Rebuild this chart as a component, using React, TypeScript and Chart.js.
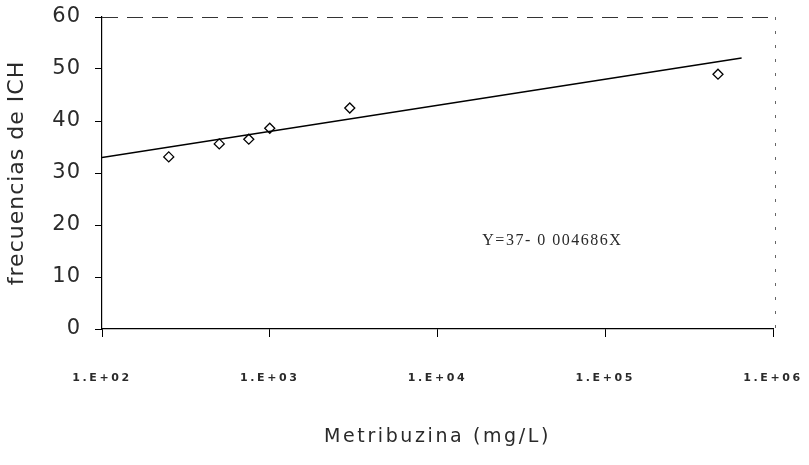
import React, { useEffect, useRef } from "react";
import { Chart, registerables } from "chart.js";

Chart.register(...registerables);

// Data
const concentrations = [250, 500, 750, 1000, 3000, 470000];
const frequencies = [33.1, 35.6, 36.5, 38.6, 42.5, 49.0];
const fitX = [100, 650000];
const fitY = [33, 52.1];
const xTickValues = [100, 1000, 10000, 100000, 1000000];
const xTickLabels = ["1.E+02", "1.E+03", "1.E+04", "1.E+05", "1.E+06"];
const yTickValues = [0, 10, 20, 30, 40, 50, 60];
const equationText = "Y=37- 0 004686X";
const equationAt = { x: 18500, y: 16.9 };
const xTitle = "Metribuzina (mg/L)";
const yTitle = "frecuencias de ICH";

const textColor = "#2a2a2a";

function zeroPadding(scale: any) {
  scale.paddingTop = 0;
  scale.paddingBottom = 0;
  scale.paddingLeft = 0;
  scale.paddingRight = 0;
}

export default function App() {
  const canvasRef = useRef<HTMLCanvasElement | null>(null);

  useEffect(() => {
    if (!canvasRef.current) return;

    const framePlugin = {
      id: "frameAndText",
      beforeDraw(chart: any) {
        chart.ctx.letterSpacing = "1px";
      },
      afterDatasetsDraw(chart: any) {
        const { ctx, chartArea, scales } = chart;
        ctx.save();
        ctx.letterSpacing = "0px";
        // dashed top and right frame
        ctx.strokeStyle = "#333";
        ctx.lineWidth = 1;
        ctx.setLineDash([16, 9]);
        ctx.beginPath();
        ctx.moveTo(chartArea.left, chartArea.top + 0.5);
        ctx.lineTo(chartArea.right + 2, chartArea.top + 0.5);
        ctx.stroke();
        ctx.strokeStyle = "#666";
        ctx.setLineDash([3, 11]);
        ctx.beginPath();
        ctx.moveTo(chartArea.right + 2.5, chartArea.top);
        ctx.lineTo(chartArea.right + 2.5, chartArea.bottom);
        ctx.stroke();
        ctx.setLineDash([]);
        // equation annotation
        ctx.letterSpacing = "1.5px";
        ctx.fillStyle = textColor;
        ctx.font = "16px 'Liberation Serif', serif";
        ctx.textAlign = "left";
        ctx.textBaseline = "middle";
        ctx.fillText(
          equationText,
          scales.x.getPixelForValue(equationAt.x),
          scales.y.getPixelForValue(equationAt.y)
        );
        ctx.restore();
        ctx.letterSpacing = "2.6px";
      },
      afterDraw(chart: any) {
        chart.ctx.letterSpacing = "0px";
      },
    };

    const chart = new Chart(canvasRef.current, {
      type: "scatter",
      data: {
        datasets: [
          {
            type: "line",
            label: "fit",
            data: fitX.map((x, i) => ({ x, y: fitY[i] })),
            borderColor: "#000",
            borderWidth: 1.5,
            pointRadius: 0,
            fill: false,
          } as any,
          {
            label: "ICH",
            data: concentrations.map((x, i) => ({ x, y: frequencies[i] })),
            pointStyle: "rectRot",
            pointRadius: 5,
            backgroundColor: "#fff",
            borderColor: "#000",
            borderWidth: 1.3,
          },
        ],
      },
      options: {
        responsive: false,
        animation: false,
        layout: { padding: { left: 0, top: 17, right: 36, bottom: 0 } },
        plugins: {
          legend: { display: false },
          tooltip: { enabled: false },
        },
        scales: {
          x: {
            type: "logarithmic",
            position: "bottom",
            min: 100,
            max: 1000000,
            afterBuildTicks: (scale: any) => {
              scale.ticks = xTickValues.map((v) => ({ value: v }));
            },
            afterFit: (scale: any) => {
              scale.height = 136;
              zeroPadding(scale);
            },
            grid: {
              drawOnChartArea: false,
              drawTicks: true,
              tickLength: 8,
              color: "#000",
              z: 1,
            },
            border: { display: true, color: "#000", width: 1.2, z: 1 },
            ticks: {
              autoSkip: false,
              maxRotation: 0,
              padding: 35,
              z: 1,
              color: textColor,
              font: { family: "'DejaVu Sans', sans-serif", size: 11, weight: "bold" },
              callback: (value: any) => {
                const idx = xTickValues.indexOf(Number(value));
                return idx >= 0 ? xTickLabels[idx] : "";
              },
            },
            title: {
              display: true,
              text: xTitle,
              color: textColor,
              padding: { top: 0, bottom: 17 },
              font: { family: "'DejaVu Sans', sans-serif", size: 19 },
            },
          },
          y: {
            type: "linear",
            position: "left",
            min: 0,
            max: 60,
            afterBuildTicks: (scale: any) => {
              scale.ticks = yTickValues.map((v) => ({ value: v }));
            },
            afterFit: (scale: any) => {
              scale.width = 102;
              zeroPadding(scale);
            },
            grid: {
              drawOnChartArea: false,
              drawTicks: true,
              tickLength: 7,
              color: "#000",
            },
            border: { display: true, color: "#000", width: 1.2 },
            ticks: {
              padding: 14,
              color: textColor,
              font: { family: "'DejaVu Sans', sans-serif", size: 21 },
            },
            title: {
              display: true,
              text: yTitle,
              color: textColor,
              padding: { top: 4, bottom: 0 },
              font: { family: "'DejaVu Sans', sans-serif", size: 22 },
            },
          },
        },
      },
      plugins: [framePlugin],
    });

    return () => chart.destroy();
  }, []);

  return (
    <div style={{ position: "fixed", left: 0, top: 0, width: 809, height: 465, background: "#fff" }}>
      <canvas ref={canvasRef} width={809} height={465} />
    </div>
  );
}
